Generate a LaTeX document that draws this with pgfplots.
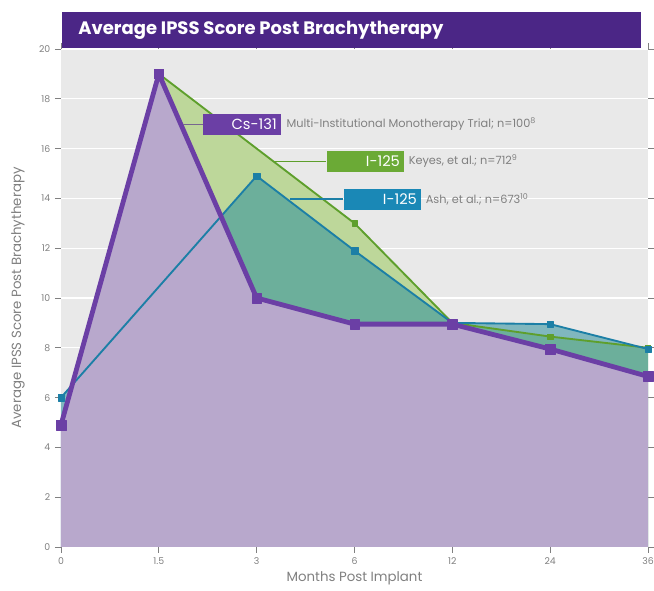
\documentclass[border=0pt]{standalone}
\usepackage{fontspec}
\setmainfont{Poppins}
\usepackage{pgfplots}
\pgfplotsset{compat=1.18}
\definecolor{bg}{HTML}{E9E9E9}
\definecolor{banner}{HTML}{4B2686}
\definecolor{pline}{HTML}{6B3FA5}
\definecolor{pfill}{HTML}{B8A8CC}
\definecolor{gline}{HTML}{5E9F2C}
\definecolor{gfill}{HTML}{BDD79A}
\definecolor{bline}{HTML}{1C7FA6}
\definecolor{bfill}{HTML}{2A8F9C}
\definecolor{gbox}{HTML}{6BAA36}
\definecolor{bbox}{HTML}{1A88B6}
\definecolor{txt}{HTML}{808080}
\begin{document}
\begin{tikzpicture}
\useasboundingbox (-45.75pt,-33pt) rectangle (444.75pt,410.25pt);
\begin{axis}[
  at={(0,0)}, anchor=south west, scale only axis,
  width=440.25pt, height=373.5pt,
  xmin=0, xmax=6, ymin=0, ymax=20,
  ytick={0,2,...,20}, xtick={0,...,6},
  xticklabels={0,1.5,3,6,12,24,36},
  axis background/.style={fill=bg},
  axis line style={draw=none},
  ymajorgrids, grid style={white, line width=0.8pt},
  tick align=outside, major tick length=4.5pt,
  tick style={txt, line width=0.6pt},
  ticklabel style={font=\fontsize{7}{8}\selectfont, text=txt},
  /pgf/number format/assume math mode=true,
  xlabel={Months Post Implant},
  ylabel={Average IPSS Score Post Brachytherapy},
  label style={font=\fontsize{10}{12}\selectfont, text=txt},
  xlabel style={at={(axis description cs:0.5,-0.062)}, anchor=center},
  ylabel style={at={(axis description cs:-0.0733,0.5)}, anchor=center},
  clip=false,
]
\addplot[draw=none, fill=gfill] coordinates {(1,19)(3,13)(4,9)(5,8.45)(6,8)} \closedcycle;
\addplot[draw=none, fill=bfill, fill opacity=0.55] coordinates {(0,6)(2,14.9)(3,11.9)(4,9)(5,8.95)(6,7.95)} \closedcycle;
\addplot[draw=none, fill=pfill] coordinates {(0,4.9)(1,19)(2,10)(3,8.95)(4,8.95)(5,7.95)(6,6.85)} \closedcycle;
\addplot[gline, line width=1.4pt, line join=round, mark=square*, mark size=2pt, mark options={line width=0.3pt}] coordinates {(1,19)(3,13)(4,9)(5,8.45)(6,8)};
\addplot[bline, line width=1.4pt, line join=round, mark=square*, mark size=2.4pt, mark options={line width=0.3pt}] coordinates {(0,6)(2,14.9)(3,11.9)(4,9)(5,8.95)(6,7.95)};
\addplot[pline, line width=3.6pt, line join=round, mark=square*, mark size=3.6pt, mark options={line width=0.3pt}] coordinates {(0,4.9)(1,19)(2,10)(3,8.95)(4,8.95)(5,7.95)(6,6.85)};
% annotations
\draw[gray!60!pline, line width=1pt] (axis cs:1.249,16.97) -- (axis cs:1.453,16.97);
\node[fill=pline, text=white, text width=52pt, align=right, inner xsep=3pt, inner ysep=0pt, minimum height=15.75pt, anchor=west, font=\fontsize{11}{12}\selectfont] at (axis cs:1.453,16.97) {Cs-131};
\node[anchor=west, inner sep=0pt, text=txt, font=\fontsize{8.5}{10}\selectfont] at (axis cs:2.303,16.97) {Multi-Institutional Monotherapy Trial; n=100\textsuperscript{8}};
\draw[gline, line width=1pt] (axis cs:2.19,15.49) -- (axis cs:2.712,15.49);
\node[fill=gbox, text=white, text width=52pt, align=right, inner xsep=3pt, inner ysep=0pt, minimum height=15.75pt, anchor=west, font=\fontsize{11}{12}\selectfont] at (axis cs:2.712,15.49) {I-125};
\node[anchor=west, inner sep=0pt, text=txt, font=\fontsize{8.5}{10}\selectfont] at (axis cs:3.552,15.49) {Keyes, et al.; n=712\textsuperscript{9}};
\draw[bline, line width=1pt] (axis cs:2.344,13.97) -- (axis cs:2.886,13.97);
\node[fill=bbox, text=white, text width=52pt, align=right, inner xsep=3pt, inner ysep=0pt, minimum height=15.75pt, anchor=west, font=\fontsize{11}{12}\selectfont] at (axis cs:2.886,13.97) {I-125};
\node[anchor=west, inner sep=0pt, text=txt, font=\fontsize{8.5}{10}\selectfont] at (axis cs:3.726,13.97) {Ash, et al.; n=673\textsuperscript{10}};
\end{axis}
\fill[banner] (0.75pt,374.25pt) rectangle (435pt,401.25pt);
\node[anchor=west, text=white, inner sep=0pt, font=\fontsize{13.5}{15}\selectfont\bfseries] at (12.75pt,387.75pt) {Average IPSS Score Post Brachytherapy};
\end{tikzpicture}
\end{document}
